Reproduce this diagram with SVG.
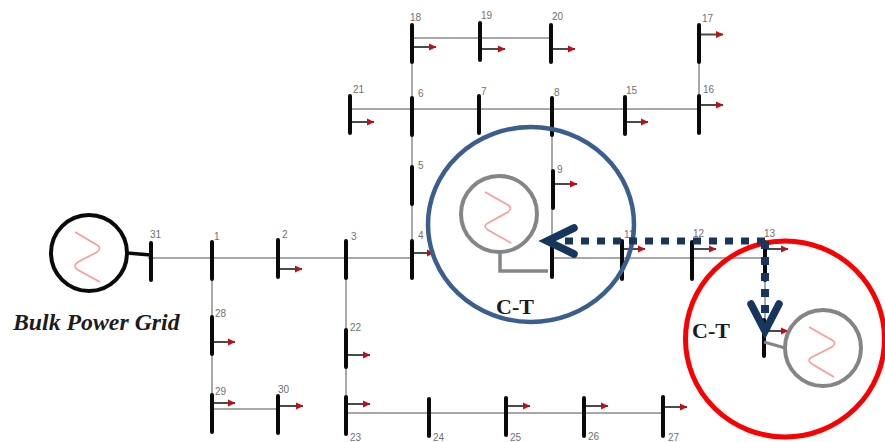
<svg xmlns="http://www.w3.org/2000/svg" width="885" height="442" viewBox="0 0 885 442">
<style>
.l{fill:none;stroke:#a8a8a8;stroke-width:2}
.b{stroke:#0a0a0a;stroke-width:4;stroke-linecap:round;fill:none}
.d{stroke:#4a4a4a;stroke-width:2;fill:none}
.n{font:10px "Liberation Sans",Arial,sans-serif;fill:#707070}
.w{fill:none;stroke:#f99;stroke-width:1.6}
.g{fill:none;stroke:#858585;stroke-width:4}
.t{font:bold 22px "Liberation Serif","Times New Roman",serif;fill:#1c1c1c}
.i{font:italic bold 23.800px "Liberation Serif","Times New Roman",serif;fill:#1c1c1c}
</style>
<defs>
<marker id="a" markerUnits="userSpaceOnUse" markerWidth="8" markerHeight="8" refX="7" refY="4" orient="auto"><path d="M0 0.500L7.500 4L0 7.500Z" fill="#c00d18"/></marker>
</defs>
<rect width="885" height="442" fill="#fff"/>
<g id="connectors">
<path class="l" d="M148 258H412M552 258H765M212 258V414M212 409H278M346 258V414M346 413H663M412 62V258M412 38H551M350 109H699M552 109V258M699 62V97M765 258V332"/>
<path class="d" marker-end="url(#a)" d="M278 269H302"/>
<path class="d" marker-end="url(#a)" d="M212 342H235"/>
<path class="d" marker-end="url(#a)" d="M212 403H235"/>
<path class="d" marker-end="url(#a)" d="M278 406H303"/>
<path class="d" marker-end="url(#a)" d="M346 355H370"/>
<path class="d" marker-end="url(#a)" d="M346 404H370"/>
<path class="d" marker-end="url(#a)" d="M506 406H530"/>
<path class="d" marker-end="url(#a)" d="M584 406H608"/>
<path class="d" marker-end="url(#a)" d="M663 407H687"/>
<path class="d" marker-end="url(#a)" d="M412 47H436"/>
<path class="d" marker-end="url(#a)" d="M480 49H505"/>
<path class="d" marker-end="url(#a)" d="M551 49H575"/>
<path class="d" marker-end="url(#a)" d="M350 122H374"/>
<path class="d" marker-end="url(#a)" d="M625 122H648"/>
<path class="d" marker-end="url(#a)" d="M699 105H723"/>
<path class="d" marker-end="url(#a)" d="M699 34.500H723"/>
<path class="d" marker-end="url(#a)" d="M553 184H577"/>
<path class="d" marker-end="url(#a)" d="M412 253H434"/>
<path class="d" marker-end="url(#a)" d="M622 249H645"/>
<path class="d" marker-end="url(#a)" d="M692 249H716"/>
<path class="d" marker-end="url(#a)" d="M765 249H788"/>
<path class="d" marker-end="url(#a)" d="M764 331H788"/>
</g>
<g id="bus31"><path class="b" d="M151 243V280"/><text class="n" x="150" y="238">31</text></g>
<g id="bus1"><path class="b" d="M212 242V279"/><text class="n" x="214" y="240">1</text></g>
<g id="bus2"><path class="b" d="M278 240V277"/><text class="n" x="282" y="238">2</text></g>
<g id="bus3"><path class="b" d="M346 241V278"/><text class="n" x="351" y="240">3</text></g>
<g id="bus4"><path class="b" d="M412 241V278"/><text class="n" x="418" y="239">4</text></g>
<g id="bus5"><path class="b" d="M412 167V204"/><text class="n" x="418" y="169">5</text></g>
<g id="bus6"><path class="b" d="M412 98V135"/><text class="n" x="418" y="97">6</text></g>
<g id="bus7"><path class="b" d="M479 96V133"/><text class="n" x="481" y="95">7</text></g>
<g id="bus8"><path class="b" d="M552 98V135"/><text class="n" x="554" y="96">8</text></g>
<g id="bus9"><path class="b" d="M553 171V208"/><text class="n" x="557" y="173">9</text></g>
<g id="bus10"><path class="b" d="M552 240V277"/></g>
<g id="bus11"><path class="b" d="M622 241V279"/><text class="n" x="624" y="238">11</text></g>
<g id="bus12"><path class="b" d="M692 242V279"/><text class="n" x="693" y="237">12</text></g>
<g id="bus13"><path class="b" d="M765 242V280"/><text class="n" x="764" y="237">13</text></g>
<g id="bus14"><path class="b" d="M764 320V356"/></g>
<g id="bus15"><path class="b" d="M625 97V134"/><text class="n" x="626" y="94">15</text></g>
<g id="bus16"><path class="b" d="M699 96V133"/><text class="n" x="703" y="93">16</text></g>
<g id="bus17"><path class="b" d="M699 25V62"/><text class="n" x="702" y="22">17</text></g>
<g id="bus18"><path class="b" d="M412 25V62"/><text class="n" x="410" y="21">18</text></g>
<g id="bus19"><path class="b" d="M480 23V60"/><text class="n" x="481" y="19">19</text></g>
<g id="bus20"><path class="b" d="M551 25V62"/><text class="n" x="552" y="20">20</text></g>
<g id="bus21"><path class="b" d="M350 96V133"/><text class="n" x="353" y="93">21</text></g>
<g id="bus22"><path class="b" d="M346 330V367"/><text class="n" x="350" y="331">22</text></g>
<g id="bus23"><path class="b" d="M346 397V434"/><text class="n" x="350" y="441">23</text></g>
<g id="bus24"><path class="b" d="M429 399V436"/><text class="n" x="433" y="441">24</text></g>
<g id="bus25"><path class="b" d="M506 398V435"/><text class="n" x="510" y="441">25</text></g>
<g id="bus26"><path class="b" d="M584 398V436"/><text class="n" x="588" y="440">26</text></g>
<g id="bus27"><path class="b" d="M663 397V436"/><text class="n" x="668" y="441">27</text></g>
<g id="bus28"><path class="b" d="M212 317V354"/><text class="n" x="215" y="317">28</text></g>
<g id="bus29"><path class="b" d="M212 395V432"/><text class="n" x="215" y="395">29</text></g>
<g id="bus30"><path class="b" d="M278 396V433"/><text class="n" x="278" y="393">30</text></g>
<g id="grid">
<path d="M127 253L151 255" fill="none" stroke="#0a0a0a" stroke-width="3.500"/>
<circle cx="89" cy="253" r="38" fill="none" stroke="#0a0a0a" stroke-width="4"/>
<path class="w" d="M75 232L97 245Q102 248 97 252L78 262Q72 266 78 270L100 282"/>
<text class="i" x="13" y="330">Bulk Power Grid</text>
</g>
<g id="ct1">
<path d="M500 252V271H548" fill="none" stroke="#858585" stroke-width="3.500"/>
<circle cx="499" cy="214" r="38" class="g"/>
<path class="w" d="M485 192L508 205Q513 208 508 212L488 223Q482 226 488 230L511 243"/>
<text class="t" x="496" y="314">C-T</text>
<ellipse cx="531" cy="224.500" rx="103" ry="97.500" fill="none" stroke="#3a5f8f" stroke-width="4.500"/>
</g>
<g id="ct2">
<path d="M764 342L785 348" fill="none" stroke="#858585" stroke-width="3"/>
<circle cx="823" cy="348" r="38" class="g"/>
<path class="w" d="M809 327L832 340Q837 343 832 347L812 357Q806 360 812 364L834 377"/>
<text class="t" x="692" y="338">C-T</text>
<ellipse cx="785" cy="339" rx="99.500" ry="98" fill="none" stroke="#fa0000" stroke-width="5"/>
</g>
<g id="transfer" fill="none" stroke="#17365d">
<path d="M765 241H565" stroke-width="7" stroke-dasharray="8 8"/>
<path d="M765 241V313" stroke-width="8" stroke-dasharray="8 8"/>
<path d="M574 228L547 241L574 254" stroke-width="7.500" stroke-linecap="round"/>
<path d="M751 304L765 331L779 304" stroke-width="7.500" stroke-linecap="round"/>
</g>
</svg>
